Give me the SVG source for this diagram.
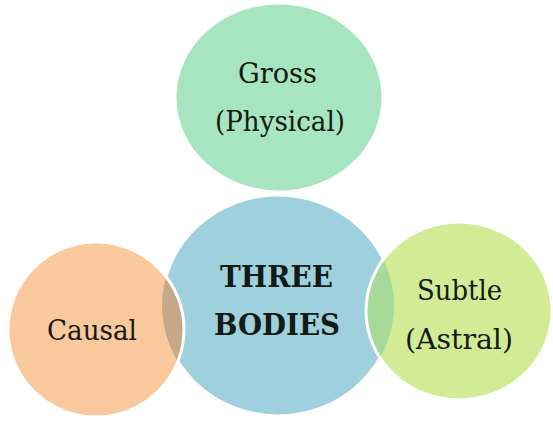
<svg xmlns="http://www.w3.org/2000/svg" width="553" height="427" viewBox="0 0 553 427">
  <style>
    .lbl { font-family: "DejaVu Serif", "Liberation Serif", serif; font-size: 28px; fill: #141a14; text-anchor: middle; }
    .bold { font-weight: bold; font-size: 29px; }
    .ring { stroke: #ffffff; stroke-width: 3; }
  </style>
  <defs>
    <clipPath id="clipCausal"><ellipse cx="96" cy="329.5" rx="88" ry="87.5"/></clipPath>
    <clipPath id="clipSubtle"><ellipse cx="459" cy="311" rx="93" ry="89"/></clipPath>
  </defs>
  <rect width="553" height="427" fill="#ffffff"/>

  <g id="node-gross">
    <ellipse class="ring" cx="279" cy="97.5" rx="104" ry="94.5" fill="#a6e5bf"/>
    <text class="lbl" x="277.5" y="83" textLength="79" lengthAdjust="spacingAndGlyphs">Gross</text>
    <text class="lbl" x="280" y="131" textLength="130" lengthAdjust="spacingAndGlyphs">(Physical)</text>
  </g>

  <g id="node-three-bodies">
    <ellipse class="ring" cx="278" cy="305.5" rx="116" ry="110.5" fill="#9fd0dd"/>
    <text class="lbl bold" x="276.5" y="287" textLength="113" lengthAdjust="spacingAndGlyphs">THREE</text>
    <text class="lbl bold" x="277" y="335" textLength="126" lengthAdjust="spacingAndGlyphs">BODIES</text>
  </g>

  <g id="node-causal">
    <ellipse cx="96" cy="329.5" rx="88" ry="87.5" fill="#f9c89c"/>
    <ellipse cx="278" cy="305.5" rx="116" ry="110.5" fill="#c4a887" clip-path="url(#clipCausal)"/>
    <ellipse class="ring" cx="96" cy="329.5" rx="88" ry="87.5" fill="none"/>
    <text class="lbl" x="92" y="340" textLength="90" lengthAdjust="spacingAndGlyphs">Causal</text>
  </g>

  <g id="node-subtle">
    <ellipse cx="459" cy="311" rx="93" ry="89" fill="#d2ec96"/>
    <ellipse cx="278" cy="305.5" rx="116" ry="110.5" fill="#a6da98" clip-path="url(#clipSubtle)"/>
    <ellipse class="ring" cx="459" cy="311" rx="93" ry="89" fill="none"/>
    <text class="lbl" x="459.5" y="300" textLength="85" lengthAdjust="spacingAndGlyphs">Subtle</text>
    <text class="lbl" x="459" y="349" textLength="108" lengthAdjust="spacingAndGlyphs">(Astral)</text>
  </g>
</svg>
